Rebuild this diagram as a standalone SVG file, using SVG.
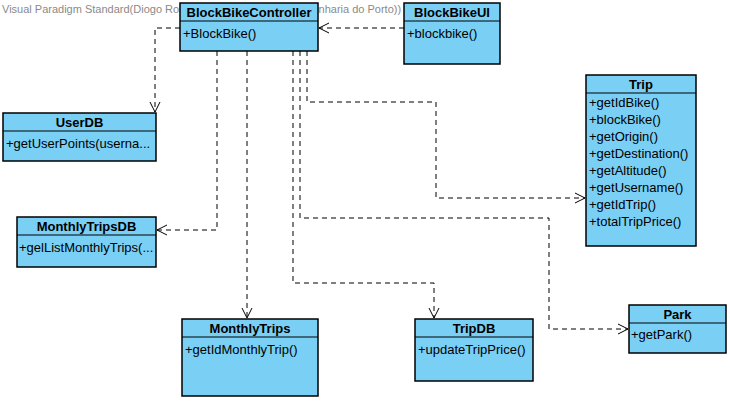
<svg xmlns="http://www.w3.org/2000/svg" width="730" height="406" viewBox="0 0 730 406">
<defs>
<marker id="open" markerWidth="12" markerHeight="12" refX="10" refY="5" orient="auto" markerUnits="userSpaceOnUse" viewBox="0 0 12 10">
<path d="M0,0 L10,5 L0,10" fill="none" stroke="#000" stroke-width="1"/>
</marker>
</defs>
<style>
.box{fill:#7ACFF5;stroke:#000;stroke-width:1.5}
.sep{stroke:#000;stroke-width:1.2}
.t{font-family:"Liberation Sans",Arial,sans-serif;font-size:13px;font-weight:bold;text-anchor:middle;fill:#000}
.m{font-family:"Liberation Sans",Arial,sans-serif;font-size:13px;fill:#000}
.c{fill:none;stroke:#000;stroke-width:1;stroke-dasharray:5,4;marker-end:url(#open)}
.wm{font-family:"Liberation Sans",Arial,sans-serif;font-size:11px;fill:#8a8a8a}
</style>
<rect width="730" height="406" fill="#fff"/>
<text class="wm" x="2" y="13">Visual Paradigm Standard(Diogo Rolo(Instituto Superior de Engenharia do Porto))</text>
<g id="connectors">
<path class="c" d="M404,28 L319,28"/>
<path class="c" d="M180,28 L155,28 L155,112"/>
<path class="c" d="M217,51 L217,230 L157,230"/>
<path class="c" d="M247,51 L247,318"/>
<path class="c" d="M293,51 L293,283 L434,283 L434,318"/>
<path class="c" d="M300,51 L300,218 L549,218 L549,329 L628,329"/>
<path class="c" d="M307,51 L307,102 L436,102 L436,198 L585,198"/>
</g>
<g id="BlockBikeController">
<rect class="box" x="180" y="3" width="138" height="48"/>
<line class="sep" x1="180" y1="21" x2="318" y2="21"/>
<text class="t" x="249" y="17">BlockBikeController</text>
<text class="m" x="183" y="38">+BlockBike()</text>
</g>
<g id="BlockBikeUI">
<rect class="box" x="404" y="3" width="96" height="61"/>
<line class="sep" x1="404" y1="21" x2="500" y2="21"/>
<text class="t" x="452" y="17">BlockBikeUI</text>
<text class="m" x="407" y="38">+blockbike()</text>
</g>
<g id="UserDB">
<rect class="box" x="3" y="113" width="153" height="48"/>
<line class="sep" x1="3" y1="131" x2="156" y2="131"/>
<text class="t" x="79.5" y="127">UserDB</text>
<text class="m" x="6" y="148">+getUserPoints(userna...</text>
</g>
<g id="MonthlyTripsDB">
<rect class="box" x="17" y="217" width="139" height="50"/>
<line class="sep" x1="17" y1="235" x2="156" y2="235"/>
<text class="t" x="86.5" y="231">MonthlyTripsDB</text>
<text class="m" x="19" y="252">+gelListMonthlyTrips(...</text>
</g>
<g id="Trip">
<rect class="box" x="586" y="75" width="110" height="171"/>
<line class="sep" x1="586" y1="93" x2="696" y2="93"/>
<text class="t" x="641" y="89">Trip</text>
<text class="m" x="589" y="107">+getIdBike()</text>
<text class="m" x="589" y="124">+blockBike()</text>
<text class="m" x="589" y="141">+getOrigin()</text>
<text class="m" x="589" y="158">+getDestination()</text>
<text class="m" x="589" y="175">+getAltitude()</text>
<text class="m" x="589" y="192">+getUsername()</text>
<text class="m" x="589" y="209">+getIdTrip()</text>
<text class="m" x="589" y="226">+totalTripPrice()</text>
</g>
<g id="MonthlyTrips">
<rect class="box" x="182" y="319" width="136" height="77"/>
<line class="sep" x1="182" y1="337" x2="318" y2="337"/>
<text class="t" x="250" y="333">MonthlyTrips</text>
<text class="m" x="185" y="354">+getIdMonthlyTrip()</text>
</g>
<g id="TripDB">
<rect class="box" x="415" y="319" width="118" height="62"/>
<line class="sep" x1="415" y1="337" x2="533" y2="337"/>
<text class="t" x="474" y="333">TripDB</text>
<text class="m" x="418" y="354">+updateTripPrice()</text>
</g>
<g id="Park">
<rect class="box" x="629" y="305" width="97" height="48"/>
<line class="sep" x1="629" y1="323" x2="726" y2="323"/>
<text class="t" x="677.5" y="319">Park</text>
<text class="m" x="631" y="339">+getPark()</text>
</g>
</svg>
